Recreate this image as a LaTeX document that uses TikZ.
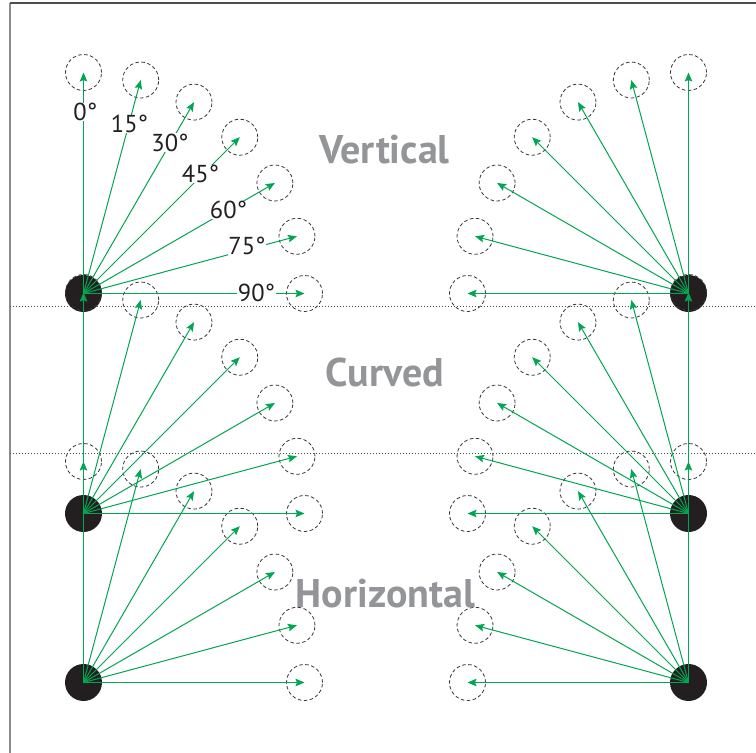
\documentclass[tikz,border=0pt]{standalone}
\usepackage{fontspec}
\setmainfont{PT Sans}
\usetikzlibrary{arrows.meta}
\definecolor{arrgreen}{HTML}{00A651}
\definecolor{dotblack}{HTML}{231F20}
\definecolor{titlegray}{HTML}{939598}
\definecolor{framedark}{HTML}{4D4D4D}
\definecolor{framelight}{HTML}{8C8C8C}
\begin{document}
\begin{tikzpicture}[x=1pt,y=-1pt,
  dot/.style={circle,fill=dotblack,minimum size=37pt,inner sep=0pt},
  target/.style={circle,draw=dotblack!90,dash pattern=on 3.5pt off 2.5pt,line width=0.8pt,minimum size=36pt,inner sep=0pt},
  arr/.style={draw=arrgreen,line width=1pt,-{Stealth[length=9pt,width=7.5pt,inset=1.5pt]}},
  deg/.style={fill=white,inner sep=0.6pt,text=dotblack,font=\fontsize{24.5}{24.5}\selectfont},
  title/.style={text=titlegray,font=\fontsize{40}{40}\selectfont\bfseries,anchor=base,inner sep=0pt},
  sep/.style={draw=black!70,line width=0.9pt,dash pattern=on 1pt off 2pt}
]
\useasboundingbox (0,0) rectangle (756,753);
% frame
\coordinate (fBL) at (10,753);
\coordinate (fTL) at (10,3);
\coordinate (fTR) at (756,3);
\draw[framelight,line width=2pt] (fBL) -- (fTL);
\draw[framedark,line width=1.6pt] (fTL) -- (fTR);
% dotted separators
\coordinate (s1a) at (10,306);
\coordinate (s1b) at (756,306);
\coordinate (s2a) at (10,453);
\coordinate (s2b) at (756,453);
\draw[sep] (s1a) -- (s1b);
\draw[sep] (s2a) -- (s2b);
% source dots
\foreach \n/\x/\y in {L1/83.5/293.5, L2/83.5/513.5, L3/83.5/682.5, R1/688.5/293.5, R2/688.5/513.5, R3/688.5/682.5}
  \node[dot] (\n) at (\x,\y) {};
% target circles
\foreach \g/\cx/\cy/\s in {L1/83.5/293.5/1, L2/83.5/513.5/1, L3/83.5/682.5/1, R1/688.5/293.5/-1, R2/688.5/513.5/-1, R3/688.5/682.5/-1}{
  \foreach \a in {0,15,...,90}{
    \node[target] (\g-t\a) at ({\cx+\s*221*sin(\a)},{\cy-221*cos(\a)}) {};
  }
}
% arrows
\foreach \g in {L1,L2,L3,R1,R2,R3}{
  \foreach \a in {0,15,...,90}{
    \draw[arr] (\g.center) -- (\g-t\a.center);
  }
}
% angle labels
\node[deg] (d0) at (85.3,112) {0°};
\node[deg] (d15) at (129.5,124) {15°};
\node[deg] (d30) at (170,142.5) {30°};
\node[deg] (d45) at (200.5,174) {45°};
\node[deg] (d60) at (228.5,210) {60°};
\node[deg] (d75) at (247,246) {75°};
\node[deg] (d90) at (256.5,292.5) {90°};
% titles
\node[title] (tV) at (384.5,163) {Vertical};
\node[title] (tC) at (385,386) {Curved};
\node[title] (tH) at (385.5,607) {Horizontal};
\end{tikzpicture}
\end{document}
